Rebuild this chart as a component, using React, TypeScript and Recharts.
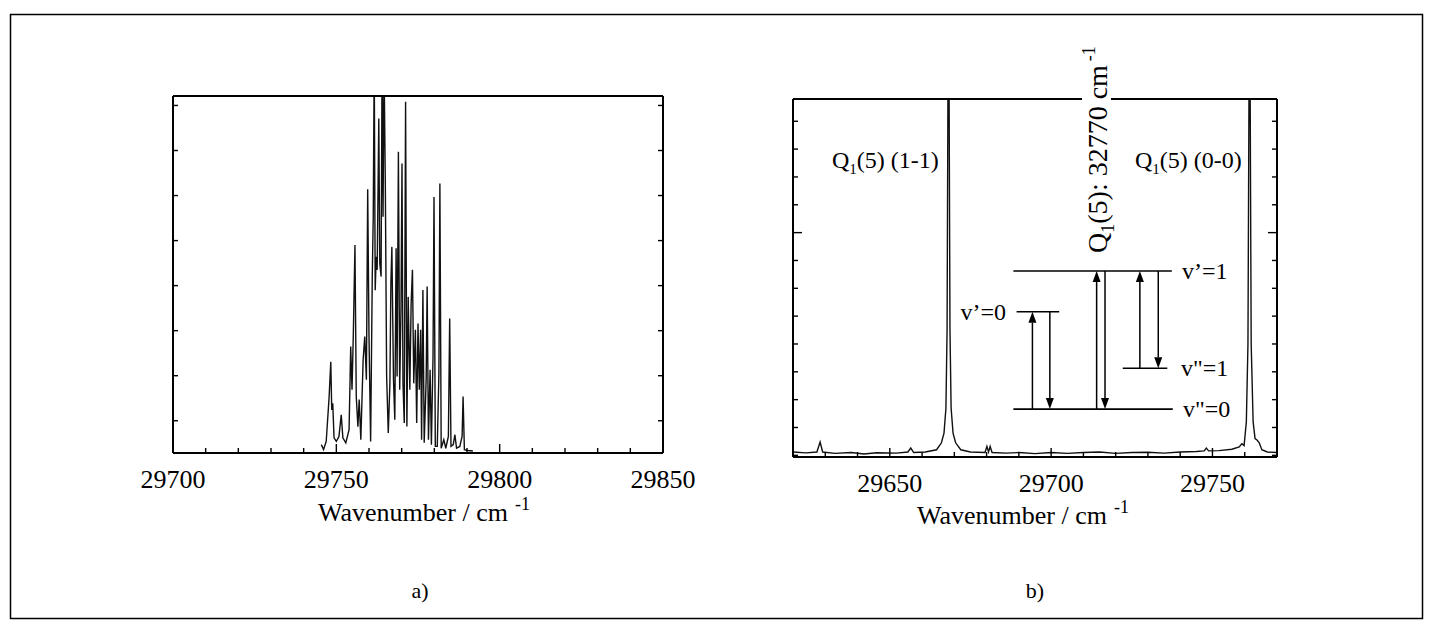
import React from 'react'
import { LineChart, Line, XAxis, YAxis, ReferenceLine } from 'recharts'

// a) spectrum, 29700-29850 cm-1
const aWavenumber = [
  29745.4, 29746.1, 29746.9, 29747.8, 29748.3, 29748.6, 29748.9, 29749.3,
  29750.0, 29750.8, 29751.5, 29752.0, 29752.9, 29753.9, 29754.4, 29754.8,
  29755.2, 29755.7, 29756.1, 29756.6, 29757.0, 29757.5, 29758.2, 29758.7,
  29759.2, 29759.6, 29760.0, 29760.5, 29761.0, 29761.3, 29761.6, 29761.9,
  29762.2, 29762.5, 29763.0, 29763.3, 29763.7, 29764.0, 29764.3, 29764.6,
  29765.0, 29765.4, 29765.9, 29766.4, 29766.7, 29767.0, 29767.5, 29767.9,
  29768.3, 29768.6, 29769.0, 29769.4, 29769.8, 29770.1, 29770.4, 29770.8,
  29771.2, 29771.6, 29772.0, 29772.5, 29772.9, 29773.3, 29773.7, 29774.2,
  29774.6, 29775.0, 29775.4, 29775.8, 29776.1, 29776.5, 29776.9, 29777.5,
  29777.8, 29778.2, 29778.7, 29779.1, 29779.6, 29779.9, 29780.3, 29780.9,
  29781.4, 29781.7, 29782.1, 29782.9, 29783.5, 29784.3, 29784.7, 29785.1,
  29785.8, 29786.3, 29786.8, 29787.8, 29788.5, 29788.8, 29789.2, 29790.3,
  29791.8,
]
const aIntensity = [
  -0.53, -0.64, -0.46, 0.54, 1.31, 0.24, 0.39, -0.38,
  -0.46, -0.35, 0.13, -0.38, -0.49, -0.2, 1.65, 0.69,
  1.91, 3.9, 0.54, -0.13, 0.47, -0.42, 1.35, 1.87,
  0.91, 5.14, 1.87, -0.46, 3.2, 4.53, 8, 2.9,
  3.64, 3.35, 6.71, 3.5, 3.2, 8, 4.53, 8,
  5.23, 0.98, -0.27, 0.83, 3.05, 3.86, 0.91, 0.02,
  3.83, 0.98, 5.97, 0.69, 2.53, 5.71, 0.83, -0.05,
  7.08, -0.13, 2.75, 0.69, 2.61, 3.35, 0.83, 2.02,
  -0.05, 2.16, 0.69, 2.02, -0.42, 2.9, -0.49, 0.91,
  2.98, -0.42, 1.13, -0.53, 1.43, 4.97, -0.57, -0.57,
  1.06, 5.27, -0.61, -0.42, -0.61, -0.35, 2.27, -0.57,
  -0.53, -0.31, -0.61, -0.57, -0.35, 0.54, -0.64, -0.66,
  -0.67,
]
const aXTicks = [29700, 29710, 29720, 29730, 29740, 29750, 29760, 29770, 29780, 29790, 29800, 29810, 29820, 29830, 29840, 29850]
const aXLabels = [29700, 29750, 29800, 29850]
const aYTicks = [0, 1, 2, 3, 4, 5, 6, 7]

// b) spectrum, Q1(5) bands
const bWavenumber = [
  29620, 29624, 29627.4, 29628.4, 29629.2, 29633, 29638, 29642,
  29646, 29652, 29655.6, 29656.5, 29657.4, 29661, 29664.5, 29666,
  29666.8, 29667.4, 29667.75, 29668.05, 29668.35, 29668.65, 29669, 29669.6,
  29670.4, 29672, 29675, 29679.5, 29680.1, 29680.6, 29681.1, 29681.7,
  29686, 29690, 29695, 29700, 29705, 29710, 29715, 29720,
  29725, 29730, 29735, 29740, 29745, 29747.4, 29748.1, 29748.8,
  29752, 29756, 29758.3, 29759.1, 29759.8, 29760.5, 29761.0, 29761.35,
  29761.65, 29762.0, 29762.6, 29763.2, 29763.8, 29764.5, 29765.3, 29767,
  29770,
]
const bIntensity = [
  0.12, 0.09, 0.12, 0.48, 0.12, 0.07, 0.1, 0.05,
  0.09, 0.08, 0.12, 0.26, 0.1, 0.12, 0.2, 0.45,
  0.8, 1.7, 4.5, 14, 14, 4.5, 1.7, 0.8,
  0.45, 0.2, 0.12, 0.1, 0.32, 0.12, 0.32, 0.1,
  0.08, 0.1, 0.06, 0.1, 0.07, 0.1, 0.12, 0.07,
  0.1, 0.11, 0.08, 0.12, 0.14, 0.16, 0.26, 0.16,
  0.17, 0.22, 0.3, 0.42, 0.35, 1.2, 4, 14,
  14, 4, 1.2, 0.6, 0.55, 0.45, 0.2, 0.12,
  0.1,
]
const bXTicks = [29620, 29630, 29640, 29650, 29660, 29670, 29680, 29690, 29700, 29710, 29720, 29730, 29740, 29750, 29760, 29770]
const bXLabels = [29650, 29700, 29750]
const bYTicks = [0, 1, 2, 3, 4, 5, 6, 7, 8, 9, 10, 11, 12]
const bYMajor = [8]

// energy level diagram (x in cm-1, y in plot units)
const levels = [
  { from: 29688.3, to: 29737.4, y: 6.62 },
  { from: 29689.3, to: 29702.5, y: 5.16 },
  { from: 29722.2, to: 29736.0, y: 3.13 },
  { from: 29688.3, to: 29737.7, y: 1.66 },
]
const transitions = [
  { x: 29694.2, from: 1.66, to: 5.16 },
  { x: 29699.6, from: 5.16, to: 1.66 },
  { x: 29714.1, from: 1.66, to: 6.62 },
  { x: 29716.7, from: 6.62, to: 1.66 },
  { x: 29727.5, from: 3.13, to: 6.62 },
  { x: 29733.2, from: 6.62, to: 3.13 },
]

const aData = aWavenumber.map((w, i) => ({ w, i: aIntensity[i] }))
const bData = bWavenumber.map((w, i) => ({ w, i: bIntensity[i] }))

const FONT = "'Liberation Serif', 'DejaVu Serif', serif"
const PAD = 60
const frame = { stroke: '#000', strokeWidth: 2 }

type Side = 'bottom' | 'top' | 'left' | 'right'

const tickMark = (side: Side, majors: number[], labels: number[]) => (p: any) => {
  const v = p.payload.value
  const len = majors.includes(v) ? 9 : 5
  let x2 = p.x
  let y2 = p.y
  if (side === 'bottom') y2 = p.y - len
  if (side === 'top') y2 = p.y + len
  if (side === 'left') x2 = p.x + len
  if (side === 'right') x2 = p.x - len
  return (
    <g>
      <line x1={p.x} y1={p.y} x2={x2} y2={y2} stroke="#000" strokeWidth={1.4} />
      {side === 'bottom' && labels.includes(v) && (
        <text x={p.x} y={p.y + 35} textAnchor="middle" fontSize={26} fontFamily={FONT} fill="#000">{v}</text>
      )}
    </g>
  )
}

const Arrow = (p: any) => {
  const { x1, y1, x2, y2 } = p
  const dir = y2 < y1 ? -1 : 1
  const L = 11
  const W = 4
  return (
    <g>
      <line x1={x1} y1={y1} x2={x2} y2={y2 - dir * L} stroke="#000" strokeWidth={1.5} />
      <polygon points={`${x2},${y2} ${x2 - W},${y2 - dir * L} ${x2 + W},${y2 - dir * L}`} fill="#000" />
    </g>
  )
}

interface PanelProps {
  box: { left: number; top: number; width: number; height: number }
  data: { w: number; i: number }[]
  xDomain: [number, number]
  yDomain: [number, number]
  xTicks: number[]
  xLabels: number[]
  yTicks: number[]
  yMajor: number[]
  children?: React.ReactNode
}

function Panel({ box, data, xDomain, yDomain, xTicks, xLabels, yTicks, yMajor, children }: PanelProps) {
  const axisCommon = { tickSize: 0, tickMargin: 0, tickLine: false, axisLine: frame, interval: 0 as const, allowDataOverflow: true }
  return (
    <div style={{ position: 'absolute', left: box.left - PAD, top: box.top - PAD }}>
      <LineChart
        width={box.width + 2 * PAD}
        height={box.height + 2 * PAD}
        data={data}
        margin={{ top: PAD - 1, right: PAD - 1, bottom: PAD - 1, left: PAD - 1 }}
      >
        <XAxis xAxisId="b" dataKey="w" type="number" domain={xDomain} ticks={xTicks} height={1} tick={tickMark('bottom', xLabels, xLabels)} {...axisCommon} />
        <XAxis xAxisId="t" orientation="top" type="number" domain={xDomain} ticks={xTicks} height={1} tick={tickMark('top', xLabels, [])} {...axisCommon} />
        <YAxis yAxisId="l" type="number" domain={yDomain} ticks={yTicks} width={1} tick={tickMark('left', yMajor, [])} {...axisCommon} />
        <YAxis yAxisId="r" orientation="right" type="number" domain={yDomain} ticks={yTicks} width={1} tick={tickMark('right', yMajor, [])} {...axisCommon} />
        <Line xAxisId="b" yAxisId="l" dataKey="i" type="linear" stroke="#111" strokeWidth={1.4} dot={false} isAnimationActive={false} />
        {children}
      </LineChart>
    </div>
  )
}

export default function App() {
  const txt = { fontFamily: FONT, fill: '#000' }
  return (
    <div style={{ position: 'absolute', left: 0, top: 0, width: 1430, height: 624, background: '#fff' }}>
      <Panel
        box={{ left: 173, top: 96, width: 490, height: 357 }}
        data={aData}
        xDomain={[29700, 29850]}
        yDomain={[-0.716, 7.21]}
        xTicks={aXTicks}
        xLabels={aXLabels}
        yTicks={aYTicks}
        yMajor={[]}
      />
      <Panel
        box={{ left: 793, top: 99, width: 484, height: 358 }}
        data={bData}
        xDomain={[29620, 29770]}
        yDomain={[-0.06, 12.8]}
        xTicks={bXTicks}
        xLabels={bXLabels}
        yTicks={bYTicks}
        yMajor={bYMajor}
      >
        {levels.map((l, k) => (
          <ReferenceLine key={'lv' + k} xAxisId="b" yAxisId="l" segment={[{ x: l.from, y: l.y }, { x: l.to, y: l.y }]} stroke="#000" strokeWidth={1.6} />
        ))}
        {transitions.map((t, k) => (
          <ReferenceLine key={'tr' + k} xAxisId="b" yAxisId="l" segment={[{ x: t.x, y: t.from }, { x: t.x, y: t.to }]} shape={Arrow} />
        ))}
      </Panel>
      <svg width={1430} height={624} style={{ position: 'absolute', left: 0, top: 0, pointerEvents: 'none' }}>
        <rect x={10.5} y={14.5} width={1412} height={604} fill="none" stroke="#000" strokeWidth={1.5} />

        <text x={318} y={521} fontSize={26} {...txt}>
          Wavenumber / cm<tspan dx={7} dy={-11} fontSize={18}>-1</tspan>
        </text>
        <text x={917} y={524} fontSize={26} {...txt}>
          Wavenumber / cm<tspan dx={7} dy={-11} fontSize={18}>-1</tspan>
        </text>
        <text x={420} y={598} fontSize={22} textAnchor="middle" {...txt}>a)</text>
        <text x={1035} y={598} fontSize={22} textAnchor="middle" {...txt}>b)</text>

        <text x={832} y={168} fontSize={24} {...txt}>
          Q<tspan dy={6} fontSize={15}>1</tspan><tspan dy={-6}>(5) (1-1)</tspan>
        </text>
        <text x={1135} y={168} fontSize={24} {...txt}>
          Q<tspan dy={6} fontSize={15}>1</tspan><tspan dy={-6}>(5) (0-0)</tspan>
        </text>

        <rect x={1082} y={90} width={29} height={16} fill="#fff" />
        <text transform="translate(1107,253) rotate(-90)" fontSize={28} {...txt}>
          Q<tspan dy={7} fontSize={18}>1</tspan><tspan dy={-7}>(5): 32770 cm</tspan><tspan dx={4} dy={-12} fontSize={18}>-1</tspan>
        </text>

        <text x={1006} y={320} fontSize={24} textAnchor="end" {...txt}>v’=0</text>
        <text x={1182} y={279} fontSize={24} {...txt}>v’=1</text>
        <text x={1181} y={376} fontSize={24} {...txt}>v"=1</text>
        <text x={1183} y={417} fontSize={24} {...txt}>v"=0</text>
      </svg>
    </div>
  )
}
